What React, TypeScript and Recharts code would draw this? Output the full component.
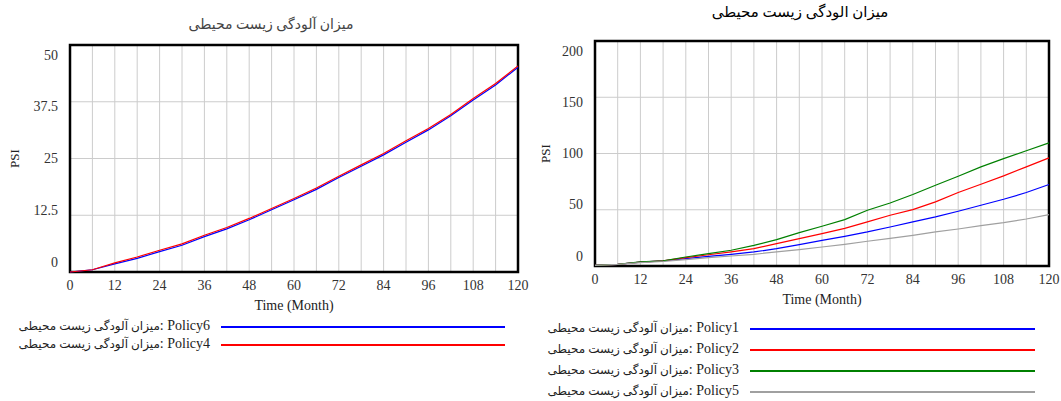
import React from "react";
import {
  LineChart,
  Line,
  XAxis,
  YAxis,
  CartesianGrid,
  ReferenceArea,
  Label,
} from "recharts";

// time axis (month), one point every 6 months
const months = [0, 6, 12, 18, 24, 30, 36, 42, 48, 54, 60, 66, 72, 78, 84, 90, 96, 102, 108, 114, 120];
const xLabelStep = 12;

// left chart
const policy6 = [0, 0.5, 1.8, 3.0, 4.5, 5.9, 7.8, 9.5, 11.5, 13.7, 15.9, 18.2, 20.8, 23.3, 25.8, 28.6, 31.3, 34.4, 37.9, 41.2, 45.1];
const policy4 = [0, 0.5, 2.0, 3.3, 4.8, 6.2, 8.1, 9.8, 11.8, 14.0, 16.2, 18.5, 21.1, 23.6, 26.1, 28.9, 31.6, 34.7, 38.2, 41.5, 45.4];
const leftYTicks = [0, 12.5, 25, 37.5, 50];

// right chart
const policy1 = [0.5, 1.5, 3.5, 4.5, 6.5, 8.6, 10.4, 12.5, 15.4, 19, 22.8, 26.4, 30.3, 34.7, 39.2, 43.6, 48.7, 54, 59.3, 65.3, 72.4];
const policy2 = [0.5, 1.5, 3.5, 4.5, 7.4, 10, 12.5, 15.4, 19.9, 24.3, 28.8, 33.5, 39.2, 45.1, 50.1, 57, 65.3, 72.7, 80.1, 88.1, 96.1];
const policy3 = [0.5, 1.5, 3.6, 4.5, 8, 11, 14, 18.4, 23.4, 29.7, 35.3, 41.2, 49.6, 56, 63.5, 71.8, 79.8, 88.1, 95.5, 102.4, 109.5];
const policy5 = [0.5, 1.5, 3, 4, 5.6, 7.4, 8.9, 10.4, 12.5, 14.5, 16.9, 19.3, 22, 24.6, 27.3, 30.3, 32.9, 35.9, 38.6, 41.8, 45.7];
const rightYTicks = [0, 50, 100, 150, 200];

const leftTitle = "میزان آلودگی زیست محیطی";
const rightTitle = "میزان الودگی زیست محیطی";
const varName = "میزان آلودگی زیست محیطی";
const xTitle = "Time (Month)";
const yTitle = "PSI";

const serif = "'Liberation Serif', 'Times New Roman', 'DejaVu Serif', 'DejaVu Sans', serif";

type Series = { key: string; name: string; values: number[]; color: string };

const leftSeries: Series[] = [
  { key: "p6", name: "Policy6", values: policy6, color: "#0000ff" },
  { key: "p4", name: "Policy4", values: policy4, color: "#ff0000" },
];
const rightSeries: Series[] = [
  { key: "p1", name: "Policy1", values: policy1, color: "#0000ff" },
  { key: "p2", name: "Policy2", values: policy2, color: "#ff0000" },
  { key: "p3", name: "Policy3", values: policy3, color: "#008000" },
  { key: "p5", name: "Policy5", values: policy5, color: "#a0a0a0" },
];

const buildRows = (series: Series[]) =>
  months.map((m, i) => {
    const row: Record<string, number> = { month: m };
    series.forEach((s) => (row[s.key] = s.values[i]));
    return row;
  });

const YTick = (props: any) => {
  const { x, y, payload, yMax } = props;
  // vensim style: labels pulled slightly inside the plot range
  const shift = 10 - 20 * (1 - payload.value / yMax);
  return (
    <text x={x} y={y + shift} textAnchor="end" dominantBaseline="central" fontSize={14} fill="#333" fontFamily={serif}>
      {payload.value}
    </text>
  );
};

const XTick = (props: any) => {
  const { x, y, payload } = props;
  if (payload.value % xLabelStep !== 0) return null;
  return (
    <text x={x} y={y + 5} textAnchor="middle" dominantBaseline="central" fontSize={14} fill="#333" fontFamily={serif}>
      {payload.value}
    </text>
  );
};

interface PanelProps {
  left: number;
  width: number;
  plotLeft: number;
  plotTop: number;
  plotRight: number;
  plotBottom: number;
  yMax: number;
  yTicks: number[];
  series: Series[];
  psiX: number;
}

const Panel: React.FC<PanelProps> = ({ left, width, plotLeft, plotTop, plotRight, plotBottom, yMax, yTicks, series, psiX }) => {
  const yAxisW = 60;
  const xAxisH = 38;
  return (
    <div style={{ position: "absolute", left, top: 0 }}>
      <LineChart
        width={width}
        height={401}
        data={buildRows(series)}
        margin={{ top: plotTop, right: width - plotRight, bottom: 401 - plotBottom - xAxisH, left: plotLeft - yAxisW }}
      >
        <CartesianGrid stroke="#cccccc" strokeWidth={1} />
        <XAxis
          dataKey="month"
          type="number"
          domain={[0, 120]}
          ticks={months}
          tickLine={false}
          axisLine={false}
          height={xAxisH}
          tick={<XTick />}
          interval={0}
        >
          <Label value={xTitle} position="insideBottom" offset={0} fontSize={14} fill="#222" fontFamily={serif} />
        </XAxis>
        <YAxis
          type="number"
          domain={[0, yMax]}
          ticks={yTicks}
          tickLine={false}
          axisLine={false}
          width={yAxisW}
          tick={<YTick yMax={yMax} />}
          tickMargin={6}
          interval={0}
        >
          <Label
            content={(p: any) => {
              const vb = p.viewBox;
              const cy = vb.y + vb.height / 2;
              return (
                <text x={psiX} y={cy} transform={`rotate(-90, ${psiX}, ${cy})`} textAnchor="middle" dominantBaseline="central" fontSize={13} fill="#222" fontFamily={serif}>
                  {yTitle}
                </text>
              );
            }}
          />
        </YAxis>
        {series.map((s) => (
          <Line
            key={s.key}
            dataKey={s.key}
            type="linear"
            stroke={s.color}
            strokeWidth={1.2}
            dot={false}
            isAnimationActive={false}
          />
        ))}
        <ReferenceArea x1={0} x2={120} y1={0} y2={yMax} fill="none" stroke="#000" strokeWidth={2.5} ifOverflow="visible" />
      </LineChart>
    </div>
  );
};

const LegendBlock: React.FC<{ series: Series[]; textRight: number; lineLeft: number; lineRight: number; top: number; rowH: number }> = ({
  series,
  textRight,
  lineLeft,
  lineRight,
  top,
  rowH,
}) => (
  <>
    {series.map((s, i) => (
      <React.Fragment key={s.key}>
        <div
          style={{
            position: "absolute",
            right: 1061 - textRight,
            top: top + i * rowH - 10,
            height: 20,
            lineHeight: "20px",
            direction: "rtl",
            whiteSpace: "nowrap",
            fontFamily: serif,
            fontSize: 14,
            color: "#222",
          }}
        >
          {`${s.name} :`}
          <span style={{ fontSize: 12 }}>{varName}</span>
        </div>
        <div
          style={{
            position: "absolute",
            left: lineLeft,
            width: lineRight - lineLeft,
            top: top + i * rowH,
            height: 1.5,
            background: s.color,
          }}
        />
      </React.Fragment>
    ))}
  </>
);

export default function App() {
  return (
    <div style={{ position: "absolute", left: 0, top: 0, width: 1061, height: 401, background: "#fff", overflow: "hidden" }}>
      <div
        style={{
          position: "absolute",
          left: 171,
          width: 200,
          top: 16,
          textAlign: "center",
          direction: "rtl",
          fontFamily: serif,
          fontSize: 14,
          color: "#444",
        }}
      >
        {leftTitle}
      </div>
      <div
        style={{
          position: "absolute",
          left: 700,
          width: 200,
          top: 3,
          textAlign: "center",
          direction: "rtl",
          fontFamily: serif,
          fontSize: 15,
          color: "#000",
        }}
      >
        {rightTitle}
      </div>
      <Panel left={0} width={530} plotLeft={70} plotTop={45} plotRight={518} plotBottom={272} yMax={50} yTicks={leftYTicks} series={leftSeries} psiX={14} />
      <Panel left={530} width={531} plotLeft={65} plotTop={41} plotRight={519} plotBottom={266} yMax={200} yTicks={rightYTicks} series={rightSeries} psiX={15} />
      <LegendBlock series={leftSeries} textRight={210} lineLeft={221} lineRight={505} top={326} rowH={18} />
      <LegendBlock series={rightSeries} textRight={739} lineLeft={750} lineRight={1035} top={328} rowH={21} />
    </div>
  );
}
